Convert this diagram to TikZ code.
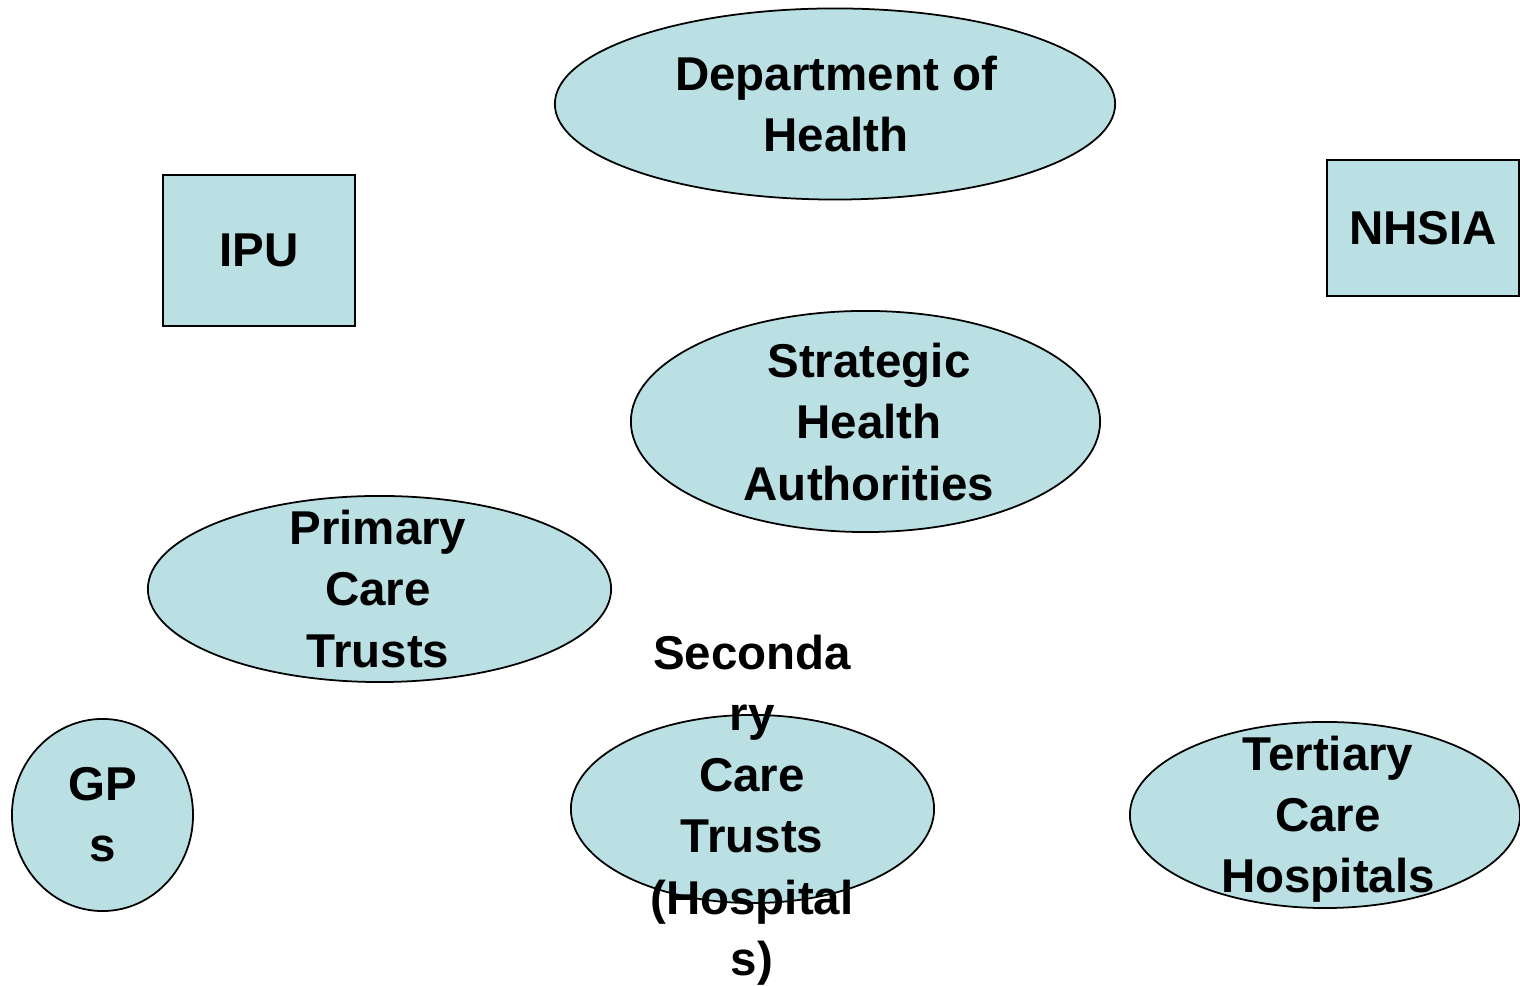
\documentclass[tikz,border=0pt]{standalone}
\usepackage{fontspec}
\setmainfont{Liberation Sans}
\usetikzlibrary{shapes.geometric}
\definecolor{nhsblue}{RGB}{186,224,227}

\begin{document}
\begin{tikzpicture}[x=0.01cm, y=-0.01cm,
  orgshape/.style={draw=black, fill=nhsblue, line width=0.5pt, inner sep=0pt},
  orgtext/.style={font=\fontsize{13.5}{17.4}\selectfont\bfseries, align=center, inner sep=0pt}]
\useasboundingbox (0,0) rectangle (1520,986);
% Department of Health
\node[orgshape, ellipse, minimum width=5.6cm, minimum height=1.91cm] (doh) at (835,104) {};
\node[orgtext] (dohtext) at (836,104) {Department of\\Health};
% Boxes
\node[orgshape, rectangle, minimum width=1.92cm, minimum height=1.51cm] (ipu) at (259,250.5) {};
\node[orgtext] (iputext) at (ipu.center) {IPU};
\node[orgshape, rectangle, minimum width=1.92cm, minimum height=1.36cm] (nhsia) at (1423,228) {};
\node[orgtext] (nhsiatext) at (nhsia.center) {NHSIA};
% Strategic Health Authorities
\node[orgshape, ellipse, minimum width=4.69cm, minimum height=2.21cm] (sha) at (865.5,421.5) {};
\node[orgtext] (shatext) at (869,422) {Strategic\\Health\\Authorities};
% Primary Care Trusts
\node[orgshape, ellipse, minimum width=4.63cm, minimum height=1.86cm] (pct) at (379.5,589) {};
\node[orgtext] (pcttext) at (378,589) {Primary\\Care\\Trusts};
% GPs
\node[orgshape, ellipse, minimum width=1.81cm, minimum height=1.92cm] (gps) at (102.5,815) {};
\node[orgtext] (gpstext) at (gps.center) {GP\\s};
% Secondary Care Trusts
\node[orgshape, ellipse, minimum width=3.63cm, minimum height=1.88cm] (sct) at (752.5,809) {};
\node[orgtext] (scttext) at (752,810) {Seconda\\ry\\Care\\Trusts\\(Hospital\\s)};
% Tertiary Care Hospitals
\node[orgshape, ellipse, minimum width=3.9cm, minimum height=1.86cm] (tch) at (1325,815) {};
\node[orgtext] (tchtext) at (1328,819) {Tertiary\\Care\\Hospitals};
\end{tikzpicture}
\end{document}
